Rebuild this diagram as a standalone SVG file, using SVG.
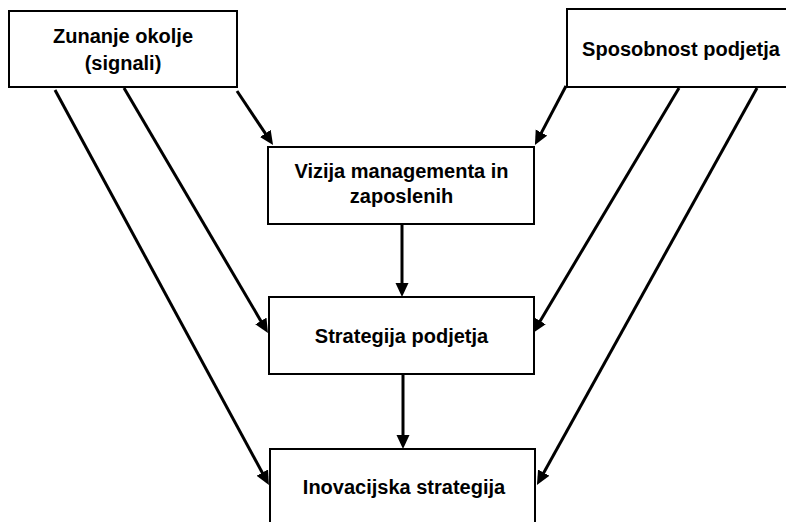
<svg xmlns="http://www.w3.org/2000/svg" width="786" height="522" viewBox="0 0 786 522">
<style>
.box{fill:#fff;stroke:#000;stroke-width:2}
.t{font-family:"Liberation Sans",Arial,sans-serif;font-weight:bold;font-size:20px;fill:#000;text-anchor:middle}
.c{stroke:#000;stroke-width:3;fill:none;marker-end:url(#ah)}
</style>
<defs>
<marker id="ah" markerUnits="userSpaceOnUse" markerWidth="16" markerHeight="14" refX="4" refY="6.5" orient="auto" viewBox="0 0 16 13">
<path d="M0,0 L14,6.5 L0,13 z" fill="#000"/>
</marker>
</defs>
<rect width="786" height="522" fill="#fff"/>
<g id="n1"><rect class="box" x="9" y="11" width="228" height="76"/><text class="t" x="123" y="43">Zunanje okolje</text><text class="t" x="123" y="70">(signali)</text></g>
<g id="n2"><rect class="box" x="567" y="9" width="228" height="78"/><text class="t" x="681" y="56">Sposobnost podjetja</text></g>
<g id="n3"><rect class="box" x="268" y="147" width="266" height="77"/><text class="t" x="401.5" y="178">Vizija managementa in</text><text class="t" x="401.5" y="203">zaposlenih</text></g>
<g id="n4"><rect class="box" x="269" y="297" width="265" height="77"/><text class="t" x="401.5" y="343">Strategija podjetja</text></g>
<g id="n5"><rect class="box" x="270" y="449" width="265" height="80"/><text class="t" x="404" y="494">Inovacijska strategija</text></g>
<g id="connectors">
<line class="c" x1="237" y1="91" x2="267.5" y2="136.7"/>
<line class="c" x1="566" y1="86" x2="539.6" y2="136.1"/>
<line class="c" x1="402" y1="224" x2="402" y2="287"/>
<line class="c" x1="403" y1="374" x2="403" y2="439"/>
<line class="c" x1="124" y1="88" x2="262.9" y2="324.4"/>
<line class="c" x1="55" y1="90" x2="264.2" y2="476.2"/>
<line class="c" x1="679" y1="88" x2="538.1" y2="324.4"/>
<line class="c" x1="757" y1="88" x2="541.8" y2="476.2"/>
</g>
</svg>
